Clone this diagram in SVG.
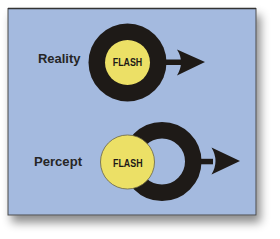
<svg xmlns="http://www.w3.org/2000/svg" width="280" height="239" viewBox="0 0 280 239">
<defs>
<filter id="sh" x="-10%" y="-10%" width="130%" height="130%">
<feDropShadow dx="4" dy="7" stdDeviation="5" flood-color="#000" flood-opacity="0.45"/>
</filter>
<style>
.lbl{font-family:"Liberation Sans",Arial,sans-serif;font-weight:bold;font-size:13.5px;fill:#262626}
.fl{font-family:"Liberation Sans",Arial,sans-serif;font-weight:bold;font-size:11.5px;fill:#1e1a17}
.blk{fill:#1e1a17}
.yel{fill:#ece066}
</style>
</defs>
<rect width="280" height="239" fill="#ffffff"/>
<rect x="8" y="8.5" width="248" height="206.5" fill="#a4badf" stroke="#4a4a4a" stroke-width="1" filter="url(#sh)"/>
<line x1="8" y1="8.5" x2="256" y2="8.5" stroke="#333" stroke-width="1.4"/>
<g id="reality">
<text class="lbl" x="38" y="63.3" textLength="42.5" lengthAdjust="spacingAndGlyphs">Reality</text>
<circle class="blk" cx="127.5" cy="62.5" r="39"/>
<circle class="yel" cx="127.5" cy="62.5" r="22.5"/>
<text class="fl" x="127.5" y="66" text-anchor="middle" textLength="29.5" lengthAdjust="spacingAndGlyphs">FLASH</text>
</g>
<g id="percept">
<text class="lbl" x="34" y="166" textLength="48" lengthAdjust="spacingAndGlyphs">Percept</text>
<circle cx="162" cy="161.5" r="31.25" fill="none" stroke="#1e1a17" stroke-width="16.5"/>
<circle class="yel" cx="127.5" cy="162" r="27" stroke="#6b6440" stroke-width="0.8"/>
<text class="fl" x="127.8" y="166.8" text-anchor="middle" textLength="29.5" lengthAdjust="spacingAndGlyphs">FLASH</text>
</g>
<g id="connectors">
<rect class="blk" x="165" y="59.5" width="16" height="5.5"/>
<path class="blk" d="M177,49.5 L205,62 L177,75.5 Q185,62 177,49.5 Z"/>
<rect class="blk" x="200" y="158.8" width="13" height="5.5"/>
<path class="blk" d="M211.5,147.5 L240,161 L211.5,174.5 Q219.5,161 211.5,147.5 Z"/>
</g>
</svg>
